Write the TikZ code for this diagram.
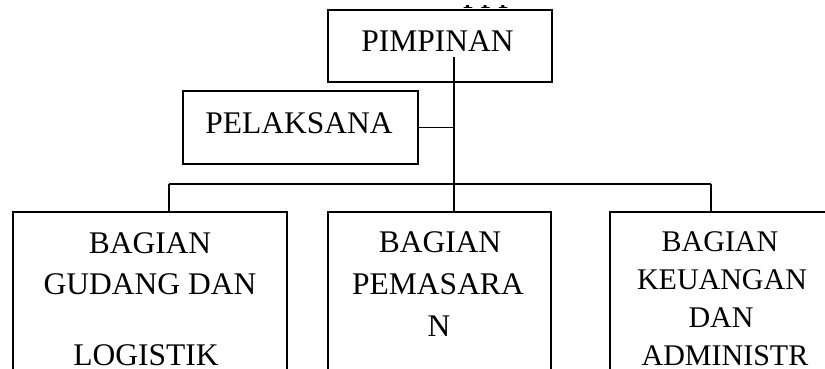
\documentclass[tikz,border=0pt]{standalone}
\usepackage{fontspec}
\setmainfont{Liberation Serif}
\begin{document}
\begin{tikzpicture}[x=1pt,y=-1pt,
  box/.style={draw=black,line width=1.4pt,rectangle,inner sep=0pt},
  lbl/.style={anchor=base,inner sep=0pt,font=\fontsize{31.5}{38}\selectfont},
  lblsmall/.style={anchor=base,inner sep=0pt,font=\fontsize{30}{36}\selectfont},
  conn/.style={draw=black,line width=1.4pt}]
\clip (0,0) rectangle (825,369);
\fill[white] (0,0) rectangle (825,369);
% cut-off text at the top
\begin{scope}
\clip (455,6) rectangle (525,9.3);
\node[lbl] (ppp) at (489,8.6) {PPP};
\end{scope}
% boxes
\node[box,minimum width=224pt,minimum height=72pt] (pim) at (440,46) {};
\node[box,minimum width=235pt,minimum height=73pt] (pel) at (300.5,127.5) {};
\node[box,minimum width=274pt,minimum height=200pt] (b1) at (150,312) {};
\node[box,minimum width=223pt,minimum height=200pt] (b2) at (439.5,312) {};
\node[box,minimum width=230pt,minimum height=200pt] (b3) at (725,312) {};
% texts
\node[lbl] (tpim) at (437.5,52) {PIMPINAN};
\node[lbl] (tpel) at (299,133) {PELAKSANA};
\node[lbl] (t1a) at (150,253) {BAGIAN};
\node[lbl] (t1b) at (150,294) {GUDANG DAN};
\node[lbl] (t1c) at (146,365) {LOGISTIK};
\node[lbl] (t2a) at (440,252) {BAGIAN};
\node[lbl] (t2b) at (438,294) {PEMASARA};
\node[lbl] (t2c) at (439,336) {N};
\node[lblsmall] (t3a) at (720,251) {BAGIAN};
\node[lblsmall] (t3b) at (722,289) {KEUANGAN};
\node[lblsmall] (t3c) at (721,327) {DAN};
\node[lblsmall] (t3d) at (725,365) {ADMINISTR};
% connectors
\coordinate (t0) at (454,57);
\coordinate (bl) at (169,184);
\coordinate (br) at (711,184);
\draw[conn] (t0) -- (t0 |- b2.north);
\draw[conn] (pel.east) -- (pel.east -| t0);
\draw[conn] (bl) -- (br);
\draw[conn] (bl) -- (bl |- b1.north);
\draw[conn] (br) -- (br |- b3.north);
\end{tikzpicture}
\end{document}
